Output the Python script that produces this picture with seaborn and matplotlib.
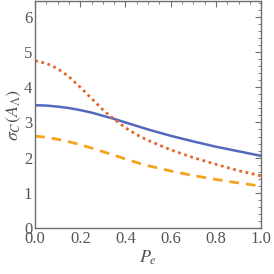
import matplotlib
matplotlib.use("Agg")
import matplotlib.pyplot as plt
import seaborn as sns
from matplotlib.ticker import MultipleLocator

# values
pe = [0.0, 0.05, 0.1, 0.15, 0.2, 0.25, 0.3, 0.35, 0.4, 0.45, 0.5, 0.6, 0.7, 0.8, 0.9, 1.0]
sigma_solid = [3.49, 3.48, 3.45, 3.41, 3.35, 3.28, 3.19, 3.10, 3.00, 2.90, 2.80, 2.62, 2.46, 2.31, 2.18, 2.05]
sigma_dotted = [4.75, 4.68, 4.53, 4.30, 4.00, 3.68, 3.36, 3.09, 2.85, 2.65, 2.49, 2.22, 2.00, 1.81, 1.63, 1.48]
sigma_dashed = [2.61, 2.58, 2.52, 2.45, 2.37, 2.27, 2.17, 2.07, 1.96, 1.86, 1.77, 1.62, 1.49, 1.38, 1.28, 1.19]

sns.set_style("white")
plt.rcParams["font.family"] = ["Liberation Serif", "DejaVu Serif"]
plt.rcParams["mathtext.fontset"] = "stix"

fig = plt.figure(figsize=(2.74, 2.74), dpi=100)
ax = fig.add_axes([0.128, 0.168, 0.825, 0.828])

sns.lineplot(x=pe, y=sigma_solid, ax=ax, color="#5468BE", lw=1.8)
sns.lineplot(x=pe, y=sigma_dotted, ax=ax, color="#E8652A", lw=2.0, linestyle=(0, (1, 1.3)))
sns.lineplot(x=pe, y=sigma_dashed, ax=ax, color="#F5A31B", lw=2.0, linestyle=(0, (3.5, 2.5)))

ax.set_xlim(0, 1)
ax.set_ylim(0, 6.45)
ax.xaxis.set_major_locator(MultipleLocator(0.2))
ax.xaxis.set_minor_locator(MultipleLocator(0.05))
ax.yaxis.set_major_locator(MultipleLocator(1))
ax.yaxis.set_minor_locator(MultipleLocator(0.2))
ax.xaxis.set_major_formatter(lambda v, p: f"{v:.1f}")

frame = "#6e6e6e"
for s in ax.spines.values():
    s.set_color(frame)
    s.set_linewidth(1.0)
ax.tick_params(which="both", direction="in", top=True, right=True, color=frame,
               labelcolor="#555555", labelsize=12, pad=2)
ax.tick_params(which="major", length=4, width=0.8)
ax.tick_params(which="minor", length=2, width=0.6)

ax.set_xlabel(r"$P_e$", fontsize=13, color="#555555", labelpad=1)
ax.set_ylabel(r"$\sigma_C(A_\Lambda)$", fontsize=13, color="#555555", labelpad=1)

fig.savefig("out.png", dpi=100)
